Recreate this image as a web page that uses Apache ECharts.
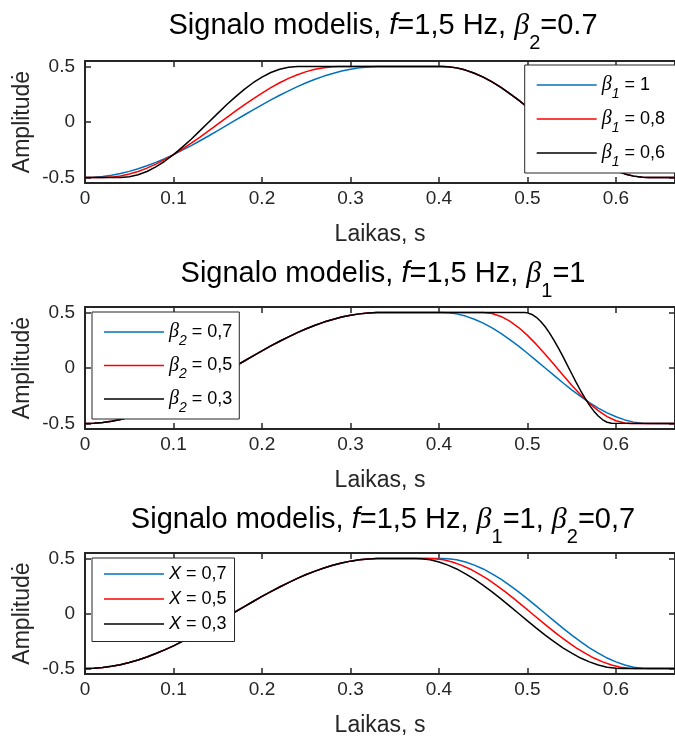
<!DOCTYPE html>
<html><head><meta charset="utf-8">
<script src="https://cdn.jsdelivr.net/npm/echarts@6/dist/echarts.min.js"></script>
<style>html,body{margin:0;padding:0;background:#fff}#c{width:675px;height:738px}</style>
</head><body><div id="c"></div><script>
// ---- tick labels / ranges ----
const xTicks = [0, 0.1, 0.2, 0.3, 0.4, 0.5, 0.6];
const yTicks = [-0.5, 0, 0.5];
const xMax = 0.6667;
const yMin = -0.55, yMax = 0.55;

// ---- titles / names ----
const titles = [
  '{n|Signalo modelis, }{i|f}{n|=1,5 Hz, }{b|β}{s|2}{n|=0.7}',
  '{n|Signalo modelis, }{i|f}{n|=1,5 Hz, }{b|β}{s|1}{n|=1}',
  '{n|Signalo modelis, }{i|f}{n|=1,5 Hz, }{b|β}{s|1}{n|=1, }{b|β}{s|2}{n|=0,7}'
];
const names1 = ['β1 = 1', 'β1 = 0,8', 'β1 = 0,6'];
const names2 = ['β2 = 0,7', 'β2 = 0,5', 'β2 = 0,3'];
const names3 = ['X = 0,7', 'X = 0,5', 'X = 0,3'];
const xLabel = 'Laikas, s';
const yLabel = 'Amplitudė';

// ---- data: [time, amplitude] ----
const riseB1_10 = [[0,-0.5],[0.01,-0.498],[0.02,-0.491],[0.03,-0.480],[0.04,-0.465],[0.05,-0.445],[0.06,-0.422],[0.07,-0.395],[0.08,-0.364],[0.09,-0.331],[0.10,-0.294],[0.11,-0.254],[0.12,-0.213],[0.13,-0.169],[0.14,-0.124],[0.15,-0.078],[0.16,-0.031],[0.17,0.016],[0.18,0.063],[0.19,0.109],[0.20,0.155],[0.21,0.199],[0.22,0.241],[0.23,0.281],[0.24,0.319],[0.25,0.354],[0.26,0.385],[0.27,0.414],[0.28,0.438],[0.29,0.459],[0.30,0.476],[0.31,0.488],[0.32,0.496],[0.33,0.500],[0.333,0.5]];
const riseB1_08 = [[0,-0.5],[0.02,-0.5],[0.03,-0.497],[0.04,-0.486],[0.05,-0.469],[0.06,-0.446],[0.07,-0.416],[0.08,-0.380],[0.09,-0.339],[0.10,-0.294],[0.11,-0.244],[0.12,-0.191],[0.13,-0.136],[0.14,-0.078],[0.15,-0.020],[0.16,0.039],[0.17,0.098],[0.18,0.155],[0.19,0.209],[0.20,0.261],[0.21,0.310],[0.22,0.354],[0.23,0.393],[0.24,0.426],[0.25,0.454],[0.26,0.476],[0.27,0.490],[0.28,0.499],[0.287,0.5]];
const riseB1_06 = [[0,-0.5],[0.04,-0.5],[0.05,-0.494],[0.06,-0.476],[0.07,-0.446],[0.08,-0.405],[0.09,-0.354],[0.10,-0.294],[0.11,-0.227],[0.12,-0.155],[0.13,-0.078],[0.14,0],[0.15,0.078],[0.16,0.155],[0.17,0.227],[0.18,0.294],[0.19,0.354],[0.20,0.405],[0.21,0.446],[0.22,0.476],[0.23,0.494],[0.24,0.5]];
const fallB2_07 = [[0.403,0.5],[0.41,0.498],[0.42,0.488],[0.43,0.468],[0.44,0.440],[0.45,0.405],[0.46,0.361],[0.47,0.312],[0.48,0.256],[0.49,0.197],[0.50,0.133],[0.51,0.067],[0.52,0],[0.53,-0.067],[0.54,-0.133],[0.55,-0.197],[0.56,-0.256],[0.57,-0.312],[0.58,-0.361],[0.59,-0.405],[0.60,-0.440],[0.61,-0.468],[0.62,-0.488],[0.63,-0.498],[0.637,-0.5]];
const fallB2_05 = [[0.45,0.5],[0.46,0.491],[0.47,0.465],[0.48,0.422],[0.49,0.365],[0.50,0.294],[0.51,0.213],[0.52,0.124],[0.53,0.031],[0.54,-0.063],[0.55,-0.155],[0.56,-0.241],[0.57,-0.319],[0.58,-0.385],[0.59,-0.438],[0.60,-0.476],[0.61,-0.496],[0.617,-0.5]];
const fallB2_03 = [[0.497,0.5],[0.50,0.497],[0.505,0.483],[0.51,0.457],[0.515,0.419],[0.52,0.372],[0.525,0.315],[0.53,0.25],[0.535,0.179],[0.54,0.104],[0.545,0.026],[0.55,-0.052],[0.555,-0.129],[0.56,-0.203],[0.565,-0.272],[0.57,-0.335],[0.575,-0.389],[0.58,-0.433],[0.585,-0.467],[0.59,-0.489],[0.595,-0.499],[0.597,-0.5]];
const fallX05 = [[0.388,0.5],[0.395,0.498],[0.405,0.488],[0.415,0.468],[0.425,0.440],[0.435,0.405],[0.445,0.361],[0.455,0.312],[0.465,0.256],[0.475,0.197],[0.485,0.133],[0.495,0.067],[0.505,0],[0.515,-0.067],[0.525,-0.133],[0.535,-0.197],[0.545,-0.256],[0.555,-0.312],[0.565,-0.361],[0.575,-0.405],[0.585,-0.440],[0.595,-0.468],[0.605,-0.488],[0.615,-0.498],[0.622,-0.5]];
const fallX03 = [[0.373,0.5],[0.38,0.498],[0.39,0.488],[0.40,0.468],[0.41,0.440],[0.42,0.405],[0.43,0.361],[0.44,0.312],[0.45,0.256],[0.46,0.197],[0.47,0.133],[0.48,0.067],[0.49,0],[0.50,-0.067],[0.51,-0.133],[0.52,-0.197],[0.53,-0.256],[0.54,-0.312],[0.55,-0.361],[0.56,-0.405],[0.57,-0.440],[0.58,-0.468],[0.59,-0.488],[0.60,-0.498],[0.607,-0.5]];
const tail = [[0.6667,-0.5]];

const colors = ['#0072BD', '#FF0000', '#000000'];

// ---- panel definitions ----
const panels = [
  {names: names1, curves: [riseB1_10.concat(fallB2_07, tail), riseB1_08.concat(fallB2_07, tail), riseB1_06.concat(fallB2_07, tail)]},
  {names: names2, curves: [riseB1_10.concat(fallB2_07, tail), riseB1_10.concat(fallB2_05, tail), riseB1_10.concat(fallB2_03, tail)]},
  {names: names3, curves: [riseB1_10.concat(fallB2_07, tail), riseB1_10.concat(fallX05, tail), riseB1_10.concat(fallX03, tail)]}
];

const FONT = "'Liberation Sans', Arial, sans-serif";
const AX = '#262626';
const gridTops = [61, 307, 553];
const titleTops = [11, 259, 505];
const legendPos = [
  {right: -1, top: 65, padding: [4, 11, 4, 12], itemGap: 2},
  {left: 92, top: 312, padding: [4, 7, 4, 12], itemGap: 1.5},
  {left: 92, top: 558, padding: [7, 8, 8.5, 12], itemGap: 7}
];

const grid = [], xAxis = [], yAxis = [], series = [], title = [], legend = [];
const titleRich = {
  n: {fontFamily: FONT, fontSize: 29, fontWeight: 'normal', color: '#000', lineHeight: 30},
  i: {fontFamily: FONT, fontSize: 29, fontWeight: 'normal', fontStyle: 'italic', color: '#000', lineHeight: 30},
  b: {fontFamily: "'Liberation Serif', serif", fontSize: 30, fontWeight: 'normal', fontStyle: 'italic', color: '#000', lineHeight: 30},
  s: {fontFamily: FONT, fontSize: 20, fontWeight: 'normal', color: '#000', lineHeight: 30, padding: [34, 0, 0, 0]}
};
const legendRich = {
  n: {fontFamily: FONT, fontSize: 18, color: '#000', lineHeight: 20},
  x: {fontFamily: FONT, fontSize: 18, fontStyle: 'italic', color: '#000', lineHeight: 20},
  b: {fontFamily: "'Liberation Serif', serif", fontSize: 20, fontStyle: 'italic', color: '#000', lineHeight: 20},
  s: {fontFamily: FONT, fontSize: 14, fontStyle: 'italic', color: '#000', lineHeight: 20, padding: [18, 0, 0, 0]}
};
const legendFmt = name => name
  .replace(/^β(\d) = (.*)$/, '{b|β}{s|$1}{n| = $2}')
  .replace(/^X = (.*)$/, '{x|X}{n| = $1}');
const fmt = v => String(Math.round(v * 10) / 10);

panels.forEach((p, i) => {
  grid.push({left: 85, top: gridTops[i], width: 596, height: 122, containLabel: false});
  title.push({text: titles[i], left: 383, top: titleTops[i], textAlign: 'center', padding: 0,
    textStyle: {fontWeight: 'normal', fontFamily: FONT, fontSize: 29, color: '#000', rich: titleRich}});
  const axisLine = {show: true, onZero: false, lineStyle: {color: AX, width: 2}};
  const tick = {show: true, inside: true, length: 6, lineStyle: {color: AX, width: 1.5}};
  xAxis.push({type: 'value', gridIndex: i, position: 'bottom', min: 0, max: xMax,
    axisLine, axisTick: Object.assign({customValues: xTicks}, tick), splitLine: {show: false},
    axisLabel: {customValues: xTicks, formatter: fmt, margin: 6, color: AX, fontFamily: FONT, fontSize: 19},
    name: xLabel, nameLocation: 'middle', nameGap: 40, nameMoveOverlap: false,
    nameTextStyle: {color: AX, fontFamily: FONT, fontSize: 23}});
  xAxis.push({type: 'value', gridIndex: i, position: 'top', min: 0, max: xMax,
    axisLine, axisTick: Object.assign({customValues: xTicks}, tick), splitLine: {show: false},
    axisLabel: {show: false, customValues: xTicks}});
  yAxis.push({type: 'value', gridIndex: i, position: 'left', min: yMin, max: yMax,
    axisLine, axisTick: Object.assign({customValues: yTicks}, tick), splitLine: {show: false},
    axisLabel: {customValues: yTicks, formatter: fmt, margin: 10, color: AX, fontFamily: FONT, fontSize: 19},
    name: yLabel, nameLocation: 'middle', nameGap: 51, nameMoveOverlap: false,
    nameTextStyle: {color: AX, fontFamily: FONT, fontSize: 23}});
  yAxis.push({type: 'value', gridIndex: i, position: 'right', min: yMin, max: yMax,
    axisLine, axisTick: Object.assign({customValues: yTicks}, tick), splitLine: {show: false},
    axisLabel: {show: false, customValues: yTicks}});
  p.curves.forEach((d, k) => {
    series.push({type: 'line', name: p.names[k], xAxisIndex: 2 * i, yAxisIndex: 2 * i,
      data: d, symbol: 'none', showSymbol: false, smooth: false,
      lineStyle: {color: colors[k], width: 1.5}, itemStyle: {color: colors[k]}});
  });
  const lp = legendPos[i];
  legend.push(Object.assign({data: p.names, orient: 'vertical', icon: 'rect',
    itemWidth: 60, itemHeight: 1.5, itemTextGap: 6,
    backgroundColor: '#fff', borderColor: AX, borderWidth: 1, borderRadius: 0,
    selectedMode: false, formatter: legendFmt, textStyle: {rich: legendRich, color: '#000'}}, lp));
});

const chart = echarts.init(document.getElementById('c'), null, {renderer: 'canvas'});
chart.setOption({animation: false, backgroundColor: '#fff', title, grid, xAxis, yAxis, legend, series});
</script></body></html>
